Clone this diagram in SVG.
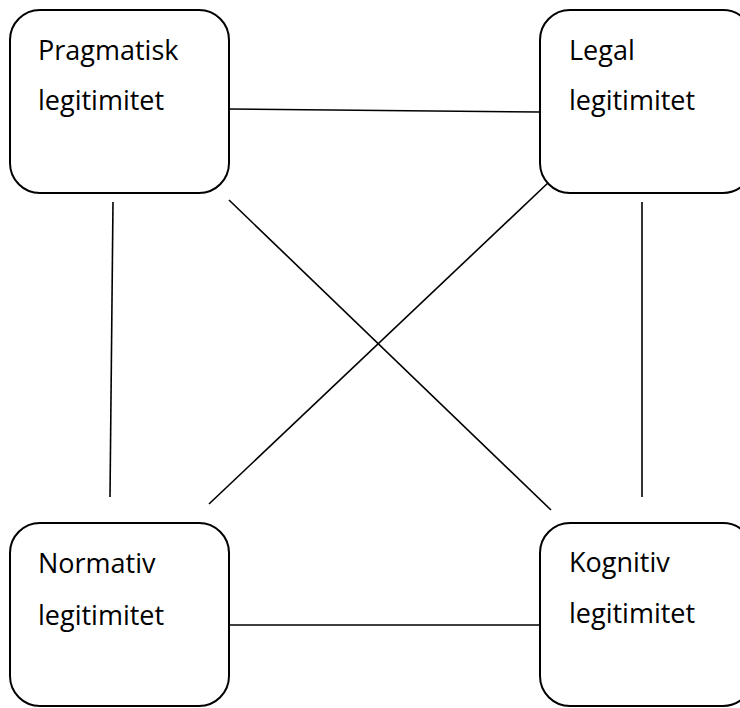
<svg xmlns="http://www.w3.org/2000/svg" width="740" height="708" viewBox="0 0 740 708">
<style>
.box{fill:#fff;stroke:#000;stroke-width:2}
.lbl{font-family:"Open Sans","Noto Sans","Liberation Sans",sans-serif;font-size:27px;fill:#000}
.edge{stroke:#000;stroke-width:1.6;fill:none}
</style>
<rect width="740" height="708" fill="#fff"/>
<g id="connectors">
<line class="edge" x1="229" y1="109" x2="540" y2="112"/>
<line class="edge" x1="229" y1="625" x2="540" y2="625"/>
<line class="edge" x1="113" y1="202" x2="110" y2="497"/>
<line class="edge" x1="642" y1="202" x2="642" y2="497"/>
<line class="edge" x1="229" y1="200" x2="551" y2="510"/>
<line class="edge" x1="550" y1="181" x2="209" y2="504"/>
</g>
<g id="pragmatisk">
<rect class="box" x="10" y="10" width="219" height="183" rx="30"/>
<text class="lbl" x="38" y="60">Pragmatisk</text>
<text class="lbl" x="38" y="110">legitimitet</text>
</g>
<g id="legal">
<rect class="box" x="540" y="10" width="213" height="183" rx="30"/>
<text class="lbl" x="569" y="60">Legal</text>
<text class="lbl" x="569" y="110">legitimitet</text>
</g>
<g id="normativ">
<rect class="box" x="10" y="523" width="219" height="183" rx="30"/>
<text class="lbl" x="38" y="573">Normativ</text>
<text class="lbl" x="38" y="625">legitimitet</text>
</g>
<g id="kognitiv">
<rect class="box" x="540" y="523" width="213" height="183" rx="30"/>
<text class="lbl" x="569" y="572">Kognitiv</text>
<text class="lbl" x="569" y="623">legitimitet</text>
</g>
</svg>
